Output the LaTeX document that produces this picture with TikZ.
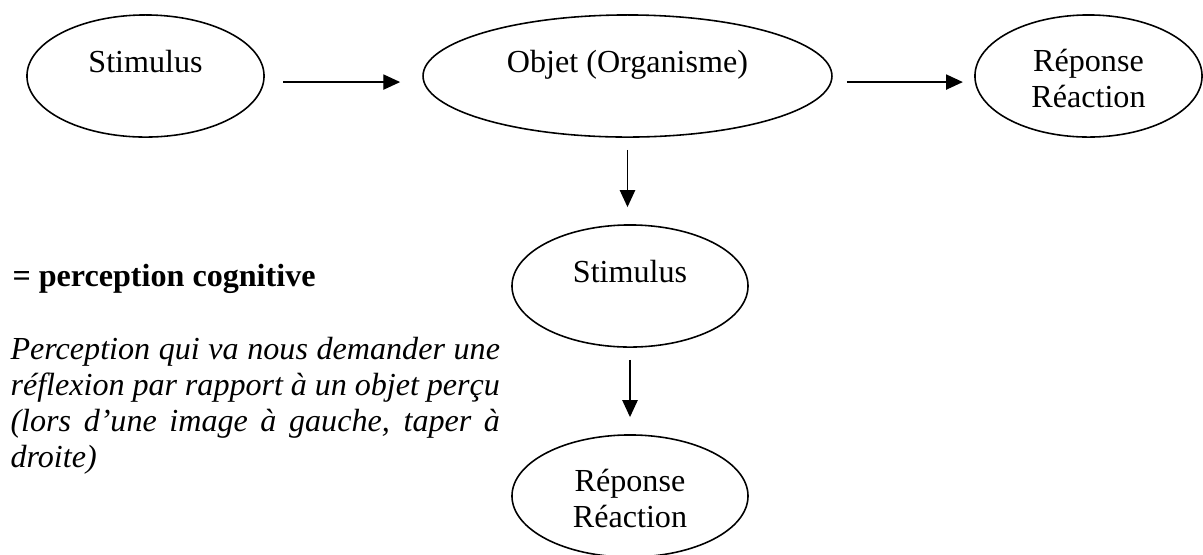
\documentclass[tikz,border=0pt]{standalone}
\usepackage{fontspec}
\setmainfont{Liberation Serif}
\usetikzlibrary{shapes.geometric,arrows.meta}
\begin{document}
\begin{tikzpicture}[x=0.38pt,y=-0.38pt,
  every node/.style={font=\fontsize{12.2pt}{13.7pt}\selectfont},
  oval/.style={draw,ellipse,line width=0.6pt,inner sep=0pt,outer sep=0pt,minimum height=46.4pt},
  lbl/.style={anchor=base,align=center,inner sep=0pt},
  arr/.style={line width=0.5pt,-{Triangle[length=6.4pt,width=5.8pt]}}]
\useasboundingbox (0,0) rectangle (1203,554);
% ellipses
\node[oval,minimum width=90.1pt] (e1) at (145.5,76) {};
\node[oval,minimum width=155.4pt] (e2) at (627.5,76) {};
\node[oval,minimum width=86.3pt] (e3) at (1088.5,76) {};
\node[oval,minimum width=89.7pt] (e4) at (630,286) {};
\node[oval,minimum width=89.7pt] (e5) at (630,496) {};
% labels
\node[lbl] (t1) at ([yshift=1.5pt]e1.center) {Stimulus};
\node[lbl] (t2) at ([yshift=1.5pt]e2.center) {Objet (Organisme)};
\node[lbl] (t3) at ([yshift=-11.8pt]e3.center) {Réponse\\Réaction};
\node[lbl] (t4) at ([yshift=1.5pt]e4.center) {Stimulus};
\node[lbl] (t5) at ([yshift=-11.8pt]e5.center) {Réponse\\Réaction};
% arrows
\draw[arr,shorten <=7.2pt,shorten >=8.7pt] ([yshift=-2.3pt]e1.east) -- ([yshift=-2.3pt]e2.west);
\draw[arr,shorten <=5.7pt,shorten >=4.6pt] ([yshift=-2.3pt]e2.east) -- ([yshift=-2.3pt]e3.west);
\draw[arr,shorten <=4.9pt,shorten >=6.8pt] (e2.south) -- (e2.south |- e4.north);
\draw[arr,shorten <=4.9pt,shorten >=6.8pt] (e4.south) -- (e5.north);
% side text
\node[anchor=base west,inner sep=0pt,font=\fontsize{12.2pt}{13.7pt}\selectfont\bfseries] (h) at (12,286) {= perception cognitive};
\node[anchor=base west,inner sep=0pt,text width=186pt,align=justify,
  font=\fontsize{12.2pt}{13.7pt}\selectfont\itshape] (p) at (10,359)
  {Perception qui va nous demander une\linebreak
   réflexion par rapport à un objet perçu\linebreak
   (lors d’une image à gauche, taper à\linebreak
   droite)};
\end{tikzpicture}
\end{document}
